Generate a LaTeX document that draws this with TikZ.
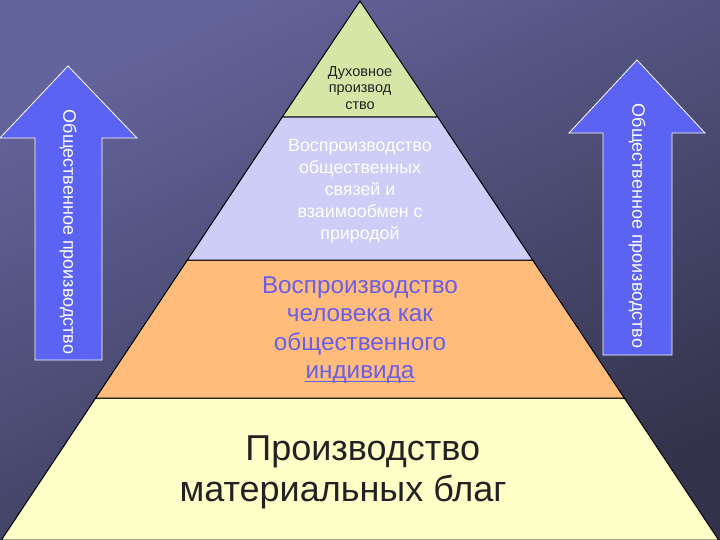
\documentclass[tikz,border=0pt]{standalone}
\usepackage{fontspec}
\setmainfont{Liberation Sans}
\definecolor{bgA}{HTML}{64649C}
\definecolor{bgB}{HTML}{33334C}
\definecolor{lgreen}{HTML}{D6E6A6}
\definecolor{lav}{HTML}{CDCDF7}
\definecolor{orng}{HTML}{FFBC7A}
\definecolor{lyel}{HTML}{FFFFC8}
\definecolor{arrblue}{HTML}{5C62F2}
\definecolor{violettext}{HTML}{6C5EE6}
\definecolor{darktext}{HTML}{222222}
\newcommand{\vunder}[1]{\tikz[baseline=(u.base)]{\node[inner sep=0pt,text=violettext] (u) {#1}; \draw[violettext, line width=1.2pt] ([yshift=-3pt]u.base west) -- ([yshift=-3pt]u.base east);}}
\tikzset{
  layer/.style={draw=black, line width=1pt},
  bigarrow/.style={fill=arrblue, draw=white, line width=0.8pt},
  arrowtext/.style={text=white, rotate=-90, font=\fontsize{18}{20}\selectfont},
  laytext/.style={align=center, inner sep=0pt}
}
\begin{document}
\begin{tikzpicture}[x=1pt,y=-1pt]
\useasboundingbox (0,0) rectangle (720,540);
\shade[top color=bgA, bottom color=bgB, shading angle=25] (0,0) rectangle (720,540);
% pyramid layers
\filldraw[layer, fill=lyel] (95.7,398) -- (624.3,398) -- (718.6,540) -- (1.4,540) -- cycle;
\filldraw[layer, fill=orng] (187.4,260) -- (532.6,260) -- (624.3,398) -- (95.7,398) -- cycle;
\filldraw[layer, fill=lav] (282.3,117) -- (437.7,117) -- (532.6,260) -- (187.4,260) -- cycle;
\filldraw[layer, fill=lgreen] (360,1) -- (437.7,117) -- (282.3,117) -- cycle;
% arrows
\filldraw[bigarrow] (68,66) -- (137,138) -- (102,138) -- (102,360) -- (35,360) -- (35,138) -- (0,138) -- cycle;
\filldraw[bigarrow] (637,60) -- (705,133) -- (672,133) -- (672,355) -- (603,355) -- (603,133) -- (569,133) -- cycle;
\node[arrowtext] (tl) at (68,232) {Общественное производство};
\node[arrowtext] (tr) at (637,226) {Общественное производство};
% texts
\node[laytext, text=darktext, font=\fontsize{14.5}{16.5}\selectfont] (t1) at (360,88) {Духовное\\производ\\ство};
\node[laytext, text=white, font=\fontsize{17.8}{22}\selectfont] (t2) at (360,191) {Воспроизводство\\общественных\\связей и\\взаимообмен с\\природой};
\node[laytext, text=violettext, font=\fontsize{24.3}{28.5}\selectfont] (t3) at (360,330) {Воспроизводство\\человека как\\общественного\\\vunder{индивида}};
\node[laytext, text=darktext, font=\fontsize{36}{41}\selectfont] (t4) at (343,472) {\hspace*{1.1em}Производство\\материальных благ};
\end{tikzpicture}
\end{document}
